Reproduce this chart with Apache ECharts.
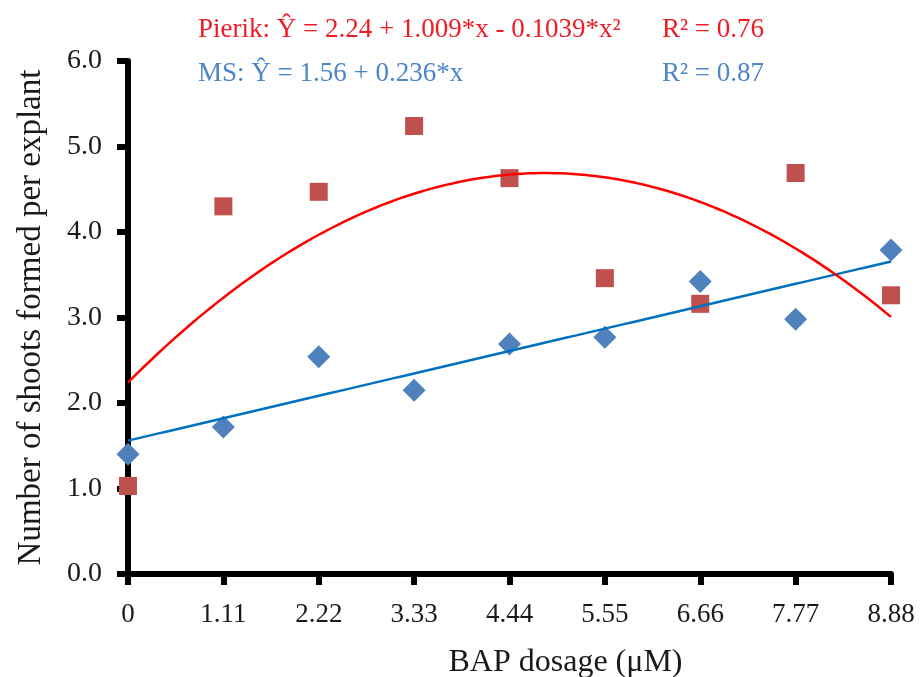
<!DOCTYPE html>
<html>
<head>
<meta charset="utf-8">
<script src="https://cdn.jsdelivr.net/npm/echarts@6/dist/echarts.min.js"></script>
<style>
html,body{margin:0;padding:0;background:#fff;}
#chart{width:922px;height:677px;}
</style>
</head>
<body>
<div id="chart"></div>
<script>
// ---- data ----
const doses = [0, 1.11, 2.22, 3.33, 4.44, 5.55, 6.66, 7.77, 8.88];
const pierikValues = [1.03, 4.30, 4.47, 5.24, 4.63, 3.46, 3.16, 4.69, 3.26];
const msValues = [1.40, 1.72, 2.54, 2.15, 2.69, 2.77, 3.42, 2.98, 3.79];
const yTicks = [0, 1, 2, 3, 4, 5, 6];
// regression coefficients shown on the chart (c0 + c1*x + c2*x^2)
const pierikCoef = [2.24, 1.009, -0.1039];
const msCoef = [1.56, 0.236];
const pierikLabel = 'Pierik: Ŷ = 2.24 + 1.009*x - 0.1039*x²';
const pierikR2 = 'R² = 0.76';
const msLabel = 'MS: Ŷ = 1.56 + 0.236*x';
const msR2 = 'R² = 0.87';

function fitCurve(coef) {
  const pts = [];
  const xMax = doses[doses.length - 1];
  const n = 120;
  for (let i = 0; i <= n; i++) {
    const x = xMax * i / n;
    let y = 0;
    coef.forEach((c, k) => { y += c * Math.pow(x, k); });
    pts.push([x, y]);
  }
  return pts;
}

const FONT = '"Liberation Serif", "Times New Roman", serif';
const chart = echarts.init(document.getElementById('chart'));
chart.setOption({
  animation: false,
  backgroundColor: '#ffffff',
  grid: { left: 128, right: 31, top: 61, bottom: 103, containLabel: false, outerBoundsMode: 'none' },
  xAxis: {
    type: 'value',
    min: 0, max: 8.88, interval: 1.11,
    splitLine: { show: false },
    axisLine: { lineStyle: { color: '#000', width: 6 } },
    axisTick: { length: 11, lineStyle: { color: '#000', width: 6 } },
    axisLabel: {
      color: '#1a1a1a', fontFamily: FONT, fontSize: 27, margin: 27,
      formatter: v => v === 0 ? '0' : v.toFixed(2)
    },
    name: 'BAP dosage (μM)',
    nameLocation: 'middle',
    nameGap: 73,
    nameTextStyle: { color: '#1a1a1a', fontFamily: FONT, fontSize: 32, padding: [0, 0, 0, 112] }
  },
  yAxis: {
    type: 'value',
    min: 0, max: 6, interval: 1,
    splitLine: { show: false },
    axisLine: { lineStyle: { color: '#000', width: 6 } },
    axisTick: { length: 11, lineStyle: { color: '#000', width: 6 } },
    axisLabel: {
      color: '#1a1a1a', fontFamily: FONT, fontSize: 28, margin: 26,
      formatter: v => v.toFixed(1)
    },
    name: 'Number of shoots formed per explant',
    nameLocation: 'middle',
    nameGap: 80,
    nameTextStyle: { color: '#1a1a1a', fontFamily: FONT, fontSize: 33 }
  },
  graphic: [
    { type: 'text', left: 198, top: 16, style: { text: pierikLabel, fill: '#ee1c25', font: '27px ' + FONT } },
    { type: 'text', left: 662, top: 16, style: { text: pierikR2, fill: '#ee1c25', font: '27px ' + FONT } },
    { type: 'text', left: 198, top: 60, style: { text: msLabel, fill: '#4a86c8', font: '27px ' + FONT } },
    { type: 'text', left: 662, top: 60, style: { text: msR2, fill: '#4a86c8', font: '27px ' + FONT } }
  ],
  series: [
    {
      name: 'MS', type: 'scatter', symbol: 'diamond', symbolSize: 23,
      itemStyle: { color: '#4f81bd', opacity: 1 },
      data: doses.map((d, i) => [d, msValues[i]]), z: 2
    },
    {
      name: 'Pierik', type: 'scatter', symbol: 'rect', symbolSize: 18,
      itemStyle: { color: '#c0504d', opacity: 1 },
      data: doses.map((d, i) => [d, pierikValues[i]]), z: 2
    },
    {
      name: 'MS fit', type: 'line', showSymbol: false, symbol: 'none',
      lineStyle: { color: '#0070c0', width: 2.5 },
      data: fitCurve(msCoef), z: 3
    },
    {
      name: 'Pierik fit', type: 'line', showSymbol: false, symbol: 'none', smooth: false,
      lineStyle: { color: '#ff0000', width: 2.5 },
      data: fitCurve(pierikCoef), z: 4
    }
  ]
});
</script>
</body>
</html>
